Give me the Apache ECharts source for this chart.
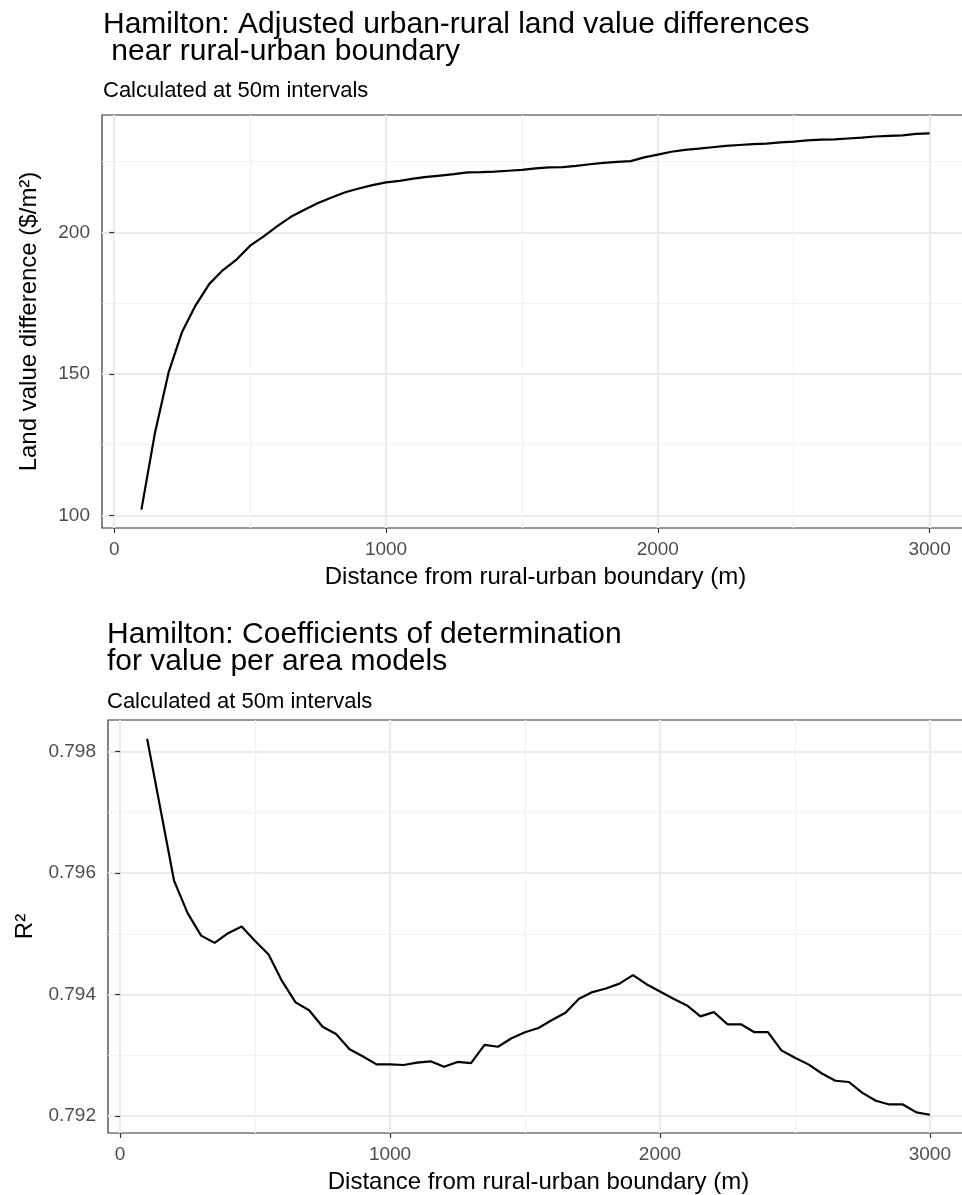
<!DOCTYPE html>
<html>
<head>
<meta charset="utf-8">
<script src="https://cdn.jsdelivr.net/npm/echarts@6/dist/echarts.min.js"></script>
<style>
  html, body { margin: 0; padding: 0; background: #fff; }
  #chart { width: 962px; height: 1195px; }
</style>
</head>
<body>
<div id="chart"></div>
<script>
// distance from the rural-urban boundary, 50m steps
const distance = [
  100, 150, 200, 250, 300, 350, 400, 450, 500, 550, 600, 650, 700, 750, 800, 850, 900, 950, 1000,
  1050, 1100, 1150, 1200, 1250, 1300, 1350, 1400, 1450, 1500, 1550, 1600, 1650, 1700, 1750, 1800, 1850, 1900, 1950, 2000,
  2050, 2100, 2150, 2200, 2250, 2300, 2350, 2400, 2450, 2500, 2550, 2600, 2650, 2700, 2750, 2800, 2850, 2900, 2950, 3000
]
// adjusted land value difference ($/m2)
const landValueDiff = [
  102.0, 129.2, 150.5, 164.9, 174.3, 181.8, 186.7, 190.4, 195.3, 198.6, 202.2, 205.5, 208.0, 210.4, 212.3, 214.2, 215.5, 216.7, 217.7,
  218.2, 219.0, 219.6, 220.1, 220.6, 221.2, 221.3, 221.5, 221.8, 222.1, 222.6, 223.0, 223.1, 223.5, 224.1, 224.6, 224.9, 225.2, 226.5, 227.5,
  228.5, 229.2, 229.6, 230.1, 230.6, 230.9, 231.2, 231.4, 231.8, 232.1, 232.5, 232.8, 232.9, 233.2, 233.5, 233.9, 234.1, 234.3, 234.8, 235.0
]
// R2 of the value per area models
const rSquared = [
  0.79821, 0.79704, 0.79587, 0.79534, 0.79497, 0.79485, 0.79501, 0.79512, 0.79488, 0.79466, 0.79422, 0.79387, 0.79374, 0.79347, 0.79335, 0.79310, 0.79298, 0.79285, 0.79285,
  0.79284, 0.79288, 0.79290, 0.79281, 0.79289, 0.79287, 0.79317, 0.79314, 0.79328, 0.79338, 0.79345, 0.79358, 0.79370, 0.79393, 0.79404, 0.79410, 0.79418, 0.79432, 0.79417, 0.79405,
  0.79393, 0.79382, 0.79364, 0.79371, 0.79351, 0.79351, 0.79338, 0.79338, 0.79308, 0.79296, 0.79285, 0.79270, 0.79258, 0.79256, 0.79238, 0.79225, 0.79219, 0.79219, 0.79206, 0.79202
]

const xTicks = [0, 1000, 2000, 3000]
const xMinor = [500, 1500, 2500]
const landTicks = [100, 150, 200]
const landMinor = [125, 175, 225]
const r2Ticks = [0.792, 0.794, 0.796, 0.798]
const r2Minor = [0.793, 0.795, 0.797]

const font = '"Liberation Sans", Arial, Helvetica, sans-serif'

const mainAxis = (grid, ticks, fmt, extra) => Object.assign({
  type: 'value',
  gridIndex: grid,
  axisLine: { show: false },
  axisTick: { show: true, length: 5, customValues: ticks, lineStyle: { color: '#333', width: 1.2 } },
  axisLabel: { customValues: ticks, formatter: fmt, margin: 12, color: '#4d4d4d', fontSize: 19, fontFamily: font },
  splitLine: { show: true, lineStyle: { color: '#ebebeb', width: 2 } },
  nameLocation: 'middle',
  nameTextStyle: { color: '#000', fontSize: 24, fontFamily: font }
}, extra)

const minorAxis = (grid, ticks, extra) => Object.assign({
  type: 'value',
  gridIndex: grid,
  axisLine: { show: false },
  axisTick: { show: false, customValues: ticks },
  axisLabel: { show: false },
  splitLine: { show: true, lineStyle: { color: '#f2f2f2', width: 1.2 } }
}, extra)

const plain = v => String(v)
const threeDp = v => v.toFixed(3)

const chart = echarts.init(document.getElementById('chart'))
window.addEventListener('resize', () => chart.resize())

chart.setOption({
  animation: false,
  backgroundColor: '#fff',
  title: [
    {
      text: 'Hamilton: Adjusted urban-rural land value differences\n near rural-urban boundary',
      left: 103, top: 11, padding: 0,
      textStyle: { fontSize: 30, fontWeight: 'normal', color: '#000', lineHeight: 27, fontFamily: font }
    },
    {
      text: 'Calculated at 50m intervals',
      left: 103, top: 80, padding: 0,
      textStyle: { fontSize: 22, fontWeight: 'normal', color: '#000', lineHeight: 21, fontFamily: font }
    },
    {
      text: 'Hamilton: Coefficients of determination\nfor value per area models',
      left: 107, top: 621, padding: 0,
      textStyle: { fontSize: 30, fontWeight: 'normal', color: '#000', lineHeight: 27, fontFamily: font }
    },
    {
      text: 'Calculated at 50m intervals',
      left: 107, top: 691, padding: 0,
      textStyle: { fontSize: 22, fontWeight: 'normal', color: '#000', lineHeight: 21, fontFamily: font }
    }
  ],
  grid: [
    { left: 102, top: 115, width: 867, height: 413, outerBoundsMode: 'none', show: true, borderColor: '#333', borderWidth: 1.2 },
    { left: 108, top: 720, width: 861, height: 413, outerBoundsMode: 'none', show: true, borderColor: '#333', borderWidth: 1.2 }
  ],
  xAxis: [
    mainAxis(0, xTicks, plain, {
      min: -45, max: 3145, position: 'bottom',
      name: 'Distance from rural-urban boundary (m)', nameGap: 37
    }),
    minorAxis(0, xMinor, { min: -45, max: 3145, position: 'top' }),
    mainAxis(1, xTicks, plain, {
      min: -45, max: 3145, position: 'bottom',
      name: 'Distance from rural-urban boundary (m)', nameGap: 37
    }),
    minorAxis(1, xMinor, { min: -45, max: 3145, position: 'top' })
  ],
  yAxis: [
    mainAxis(0, landTicks, plain, {
      min: 95.5, max: 241.5, position: 'left',
      name: 'Land value difference ($/m²)', nameGap: 61, nameRotate: 90
    }),
    minorAxis(0, landMinor, { min: 95.5, max: 241.5, position: 'right' }),
    mainAxis(1, r2Ticks, threeDp, {
      min: 0.79172, max: 0.79852, position: 'left',
      name: 'R²', nameGap: 68, nameRotate: 90
    }),
    minorAxis(1, r2Minor, { min: 0.79172, max: 0.79852, position: 'right' })
  ],
  series: [
    {
      type: 'line',
      xAxisIndex: 0,
      yAxisIndex: 0,
      data: distance.map((d, i) => [d, landValueDiff[i]]),
      showSymbol: false,
      lineStyle: { color: '#000', width: 2.2 },
      z: 5
    },
    {
      type: 'line',
      xAxisIndex: 2,
      yAxisIndex: 2,
      data: distance.map((d, i) => [d, rSquared[i]]),
      showSymbol: false,
      lineStyle: { color: '#000', width: 2.2 },
      z: 5
    }
  ]
})
</script>
</body>
</html>
